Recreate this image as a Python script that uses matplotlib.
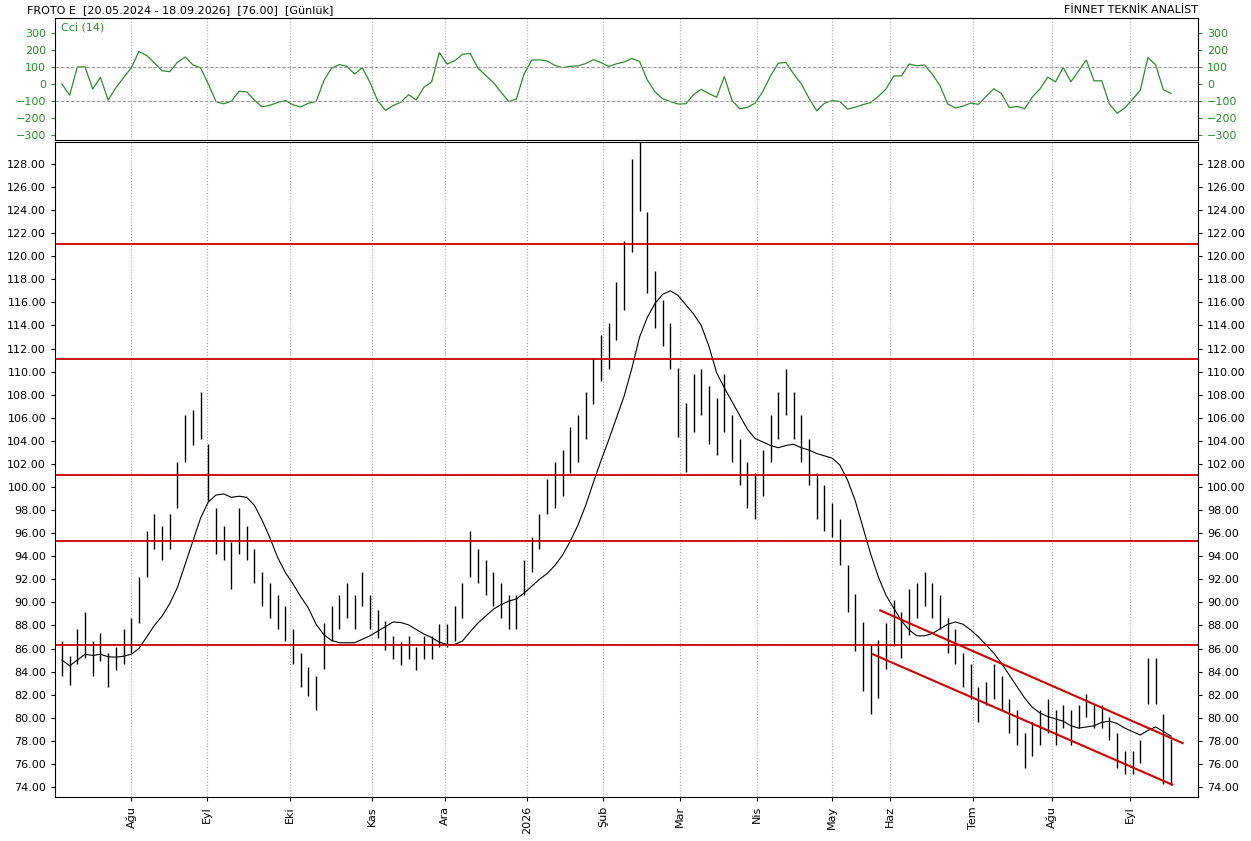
import numpy as np
import pandas as pd
import matplotlib
matplotlib.use("Agg")
import matplotlib.pyplot as plt

closes = [85,84,86,87,85,86,84,85,86,
          87,90,94,96,95,96,
          100,104,105,106,
          101,96,95,93,
          96,95,93,91,90,89,88,
          86,84,83,82,86,
          88,89,90,89,91,89,88,
          87,86,85.5,86,85,86,86,87,
          87,88,90,94,93,
          92,91,90,89,89,
          92,94,96,99,100,
          101,103,104,106,
          109,111,112,115,118,124,
          128,
          120,116,114,112,
          107,104,107,108,106,
          105,107,104,102,100,
          99,101,104,106,108,
          106,104,102,99,98,
          97,95,91,88,85,
          83,84,86,
          88,87,89,90,91,90,89,
          87,86,84,83,81,82,
          83,82,80,79,77,78,79,
          80,79,80,79,80,81,80,80,79,
          77,76,76,77,
          83,83,
          77,76]
rng = [3,2.5,3,4,3,2.5,3,2,3,
       3,4,4,3,3,3,
       4,4,3,4,
       5,4,3,4,
       4,3,3,3,3,3,3,
       3,3,2.5,3,4,
       3,3,3,3,3,3,2.5,
       2.5,2,2,2,2,2,2,2,
       2,3,3,4,3,
       3,3,3,3,3,
       3,3,3,3,4,
       4,4,4,4,
       4,4,4,5,6,8,
       9,
       7,5,4,4,
       6,6,5,4,5,
       5,5,4,4,4,
       4,4,4,4,4,
       4,4,4,4,4,
       3,4,4,5,6,
       6,5,4,
       4,4,4,3,3,3,3,
       3,3,3,3,3,2,
       3,3,3,3,3,3,3,
       3,3,2,3,2,2,2,2,2,
       3,2,2,2,
       4,4,
       6,4]
months = ["Ağu","Eyl","Eki","Kas","Ara","2026","Şub","Mar","Nis","May","Haz","Tem","Ağu","Eyl"]
month_pos = [18,37.7,59.2,80.5,99.5,120.8,140.5,160.5,180.5,200,215,236.6,257,277.4]
hlines = [121.1,111.1,101.0,95.3,86.3]
chan_upper = ([212.5,291],[89.3,77.8])
chan_lower = ([210.6,288.3],[85.5,74.2])

c = np.array(closes, float); r = np.array(rng, float)
hi = c + 0.55*r; lo = c - 0.45*r
x = np.arange(len(c))*2.0

s = pd.Series(c)
ma = s.rolling(10, min_periods=1).mean()
tp = (pd.Series(hi)+pd.Series(lo)+s)/3
sma = tp.rolling(7, min_periods=1).mean()
md = tp.rolling(7, min_periods=1).apply(lambda v: np.mean(np.abs(v-v.mean())), raw=True)
cci = ((tp-sma)/(0.015*md.replace(0,np.nan))).fillna(0).clip(-260,290)

fig = plt.figure(figsize=(12.51,8.41), dpi=100)
W,H = 1251,841
ax1 = fig.add_axes([55/W, 1-140/H, 1143/W, 122/H])
ax2 = fig.add_axes([55/W, 1-797/H, 1143/W, 655/H])
xl = (-1.8, 295)
for ax in (ax1, ax2):
    ax.set_xlim(*xl)
    for p in month_pos:
        ax.axvline(p, color='#aaaaaa', ls=':', lw=0.8)
    ax.tick_params(labelsize=8, length=3, labelright=True, right=True)

ax1.plot(np.arange(len(c))*2.0, cci, color='#2e8b2e', lw=0.9)
ax1.set_ylim(-330,388)
ax1.set_yticks(range(-300,301,100))
ax1.tick_params(axis='y', colors='#2e8b2e', labelcolor='#2e8b2e')
for v in (100,-100):
    ax1.axhline(v, color='#999999', ls='--', lw=0.7)
ax1.set_xticks([])
ax1.text(0.005,0.96,"Cci (14)", transform=ax1.transAxes, color='#2e8b2e', fontsize=8, va='top')

ax2.vlines(x, lo, hi, color='black', lw=1)
ax2.plot(x, ma, color='black', lw=0.8)
for h in hlines:
    ax2.axhline(h, color='#cc0000', lw=1.3)
ax2.plot(*chan_upper, color='#cc0000', lw=1.5)
ax2.plot(*chan_lower, color='#cc0000', lw=1.5)
ax2.set_ylim(73.13,129.9)
ax2.set_yticks(np.arange(74,129,2))
ax2.set_yticklabels([f"{v:.2f}" for v in np.arange(74,129,2)])
ax2.set_xticks(month_pos)
ax2.set_xticklabels(months, rotation=90, fontsize=8)

fig.text(27/W, 1-10/H, "FROTO E  [20.05.2024 - 18.09.2026]  [76.00]  [Günlük]", fontsize=8, va='center')
fig.text(1198/W, 1-10/H, "FİNNET TEKNİK ANALİST", fontsize=8, va='center', ha='right')
fig.savefig("out.png", dpi=100)
